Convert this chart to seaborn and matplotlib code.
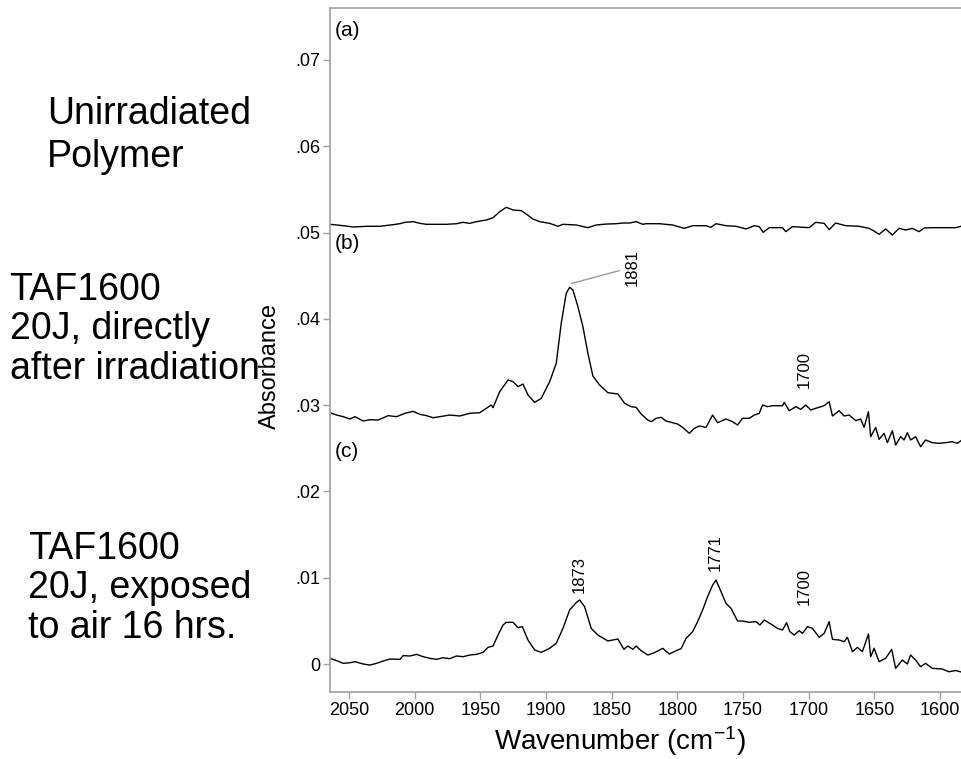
import pandas as pd
import matplotlib.pyplot as plt
import seaborn as sns
from matplotlib.ticker import FuncFormatter, MultipleLocator

sns.set_style('ticks')
plt.rcParams['font.family'] = ['Liberation Sans', 'DejaVu Sans']
plt.rcParams['mathtext.default'] = 'regular'
plt.rcParams['text.color'] = 'black'
plt.rcParams['axes.labelcolor'] = 'black'

# spectrum (a): unirradiated polymer
wn_a = [2064.4, 2059.3, 2054.3, 2046.7, 2036.5, 2026.4, 2016.3, 2011.2, 2007.4, 2001.1,
        1996.0, 1991.0, 1983.3, 1975.7, 1968.1, 1963.1, 1958.0, 1952.9, 1945.4, 1940.3,
        1935.2, 1930.2, 1925.1, 1918.8, 1915.0, 1909.9, 1904.8, 1897.2, 1890.9, 1887.1,
        1877.0, 1868.1, 1861.8, 1854.2, 1846.6, 1841.5, 1836.4, 1831.4, 1826.3, 1823.8,
        1813.7, 1803.6, 1794.7, 1788.4, 1778.2, 1774.4, 1770.6, 1763.0, 1755.4, 1747.8,
        1741.5, 1737.7, 1734.7, 1730.1, 1720.0, 1717.5, 1712.4, 1699.7, 1694.7, 1688.3,
        1684.5, 1679.5, 1671.9, 1661.7, 1654.1, 1650.3, 1646.5, 1641.5, 1636.4, 1631.3,
        1626.3, 1621.2, 1616.1, 1612.3, 1606.0, 1595.9, 1588.3, 1583.4]
abs_a = [0.05095, 0.05087, 0.05079, 0.05064, 0.05072, 0.05072, 0.05091, 0.05102, 0.05118, 0.05126,
         0.05106, 0.05095, 0.05095, 0.05095, 0.05102, 0.05118, 0.05106, 0.05126, 0.05145, 0.05172,
         0.05241, 0.05292, 0.05261, 0.05253, 0.05214, 0.05156, 0.05126, 0.05106, 0.05072, 0.05095,
         0.05087, 0.05056, 0.05087, 0.05098, 0.05102, 0.05110, 0.05110, 0.05126, 0.05095, 0.05102,
         0.05102, 0.05087, 0.05048, 0.05079, 0.05079, 0.05060, 0.05102, 0.05079, 0.05072, 0.05041,
         0.05079, 0.05068, 0.05002, 0.05056, 0.05056, 0.05010, 0.05068, 0.05056, 0.05118, 0.05106,
         0.05033, 0.05110, 0.05079, 0.05072, 0.05048, 0.05017, 0.04979, 0.05041, 0.04971, 0.05048,
         0.05029, 0.05048, 0.05010, 0.05052, 0.05056, 0.05056, 0.05056, 0.05075]

# spectrum (b): TAF1600 20J, directly after irradiation
wn_b = [2064.4, 2059.3, 2054.3, 2049.2, 2045.4, 2039.1, 2034.0, 2027.7, 2020.1, 2013.7,
        2007.4, 2001.1, 1996.0, 1991.0, 1985.9, 1980.8, 1973.2, 1965.6, 1958.0, 1950.4,
        1945.4, 1941.6, 1940.3, 1935.2, 1928.9, 1925.1, 1921.3, 1917.5, 1913.7, 1908.6,
        1903.6, 1897.2, 1892.2, 1888.4, 1884.6, 1882.0, 1879.5, 1875.7, 1871.9, 1868.1,
        1864.3, 1859.2, 1852.9, 1845.3, 1840.2, 1835.2, 1831.4, 1827.6, 1822.5, 1820.0,
        1816.2, 1812.4, 1808.6, 1803.6, 1799.8, 1796.0, 1790.9, 1787.1, 1783.3, 1778.2,
        1773.2, 1769.4, 1763.0, 1758.0, 1754.2, 1750.4, 1745.3, 1741.5, 1737.7, 1735.2,
        1731.4, 1727.6, 1720.0, 1718.7, 1714.9, 1709.9, 1706.1, 1702.3, 1698.5, 1694.7,
        1688.3, 1684.5, 1682.0, 1676.9, 1673.1, 1669.3, 1664.3, 1660.5, 1657.9, 1654.6,
        1652.9, 1649.1, 1646.5, 1642.7, 1640.2, 1636.4, 1633.9, 1630.1, 1627.5, 1625.0,
        1622.5, 1618.7, 1614.9, 1611.1, 1606.0, 1600.9, 1595.9, 1590.8, 1587.0, 1583.4]
abs_b = [0.02912, 0.02885, 0.02866, 0.02839, 0.02866, 0.02816, 0.02831, 0.02827, 0.02878, 0.02866,
         0.02905, 0.02928, 0.02893, 0.02878, 0.02854, 0.02866, 0.02885, 0.02874, 0.02905, 0.02912,
         0.02963, 0.03001, 0.02970, 0.03156, 0.03291, 0.03272, 0.03214, 0.03244, 0.03117, 0.03032,
         0.03078, 0.03272, 0.03484, 0.03948, 0.04295, 0.04365, 0.04334, 0.04141, 0.03909, 0.03600,
         0.03337, 0.03233, 0.03144, 0.03129, 0.03021, 0.02982, 0.02974, 0.02897, 0.02827, 0.02808,
         0.02847, 0.02858, 0.02816, 0.02796, 0.02781, 0.02742, 0.02673, 0.02731, 0.02758, 0.02742,
         0.02885, 0.02796, 0.02839, 0.02808, 0.02769, 0.02847, 0.02847, 0.02885, 0.02905, 0.03001,
         0.02982, 0.02993, 0.02993, 0.03032, 0.02935, 0.02982, 0.02951, 0.03001, 0.02943, 0.02963,
         0.02993, 0.03040, 0.02874, 0.02935, 0.02874, 0.02885, 0.02820, 0.02839, 0.02742, 0.02924,
         0.02634, 0.02742, 0.02603, 0.02673, 0.02565, 0.02704, 0.02538, 0.02634, 0.02596, 0.02681,
         0.02596, 0.02634, 0.02518, 0.02596, 0.02565, 0.02557, 0.02565, 0.02576, 0.02557, 0.02596]

# spectrum (c): TAF1600 20J, exposed to air 16 hrs
wn_c = [2064.4, 2059.3, 2054.3, 2049.2, 2045.4, 2039.1, 2034.0, 2028.9, 2023.9, 2018.8,
        2011.2, 2008.7, 2003.6, 1998.5, 1993.5, 1988.4, 1983.3, 1978.3, 1973.2, 1968.1,
        1963.1, 1958.0, 1952.9, 1947.9, 1944.1, 1940.3, 1936.5, 1932.7, 1930.2, 1925.1,
        1921.3, 1918.0, 1913.7, 1908.6, 1903.6, 1897.2, 1892.2, 1887.1, 1882.0, 1877.0,
        1874.4, 1870.6, 1865.6, 1860.5, 1852.9, 1845.3, 1840.7, 1837.7, 1833.9, 1831.4,
        1827.6, 1822.5, 1817.5, 1811.2, 1806.1, 1801.0, 1797.2, 1793.4, 1788.4, 1784.6,
        1780.8, 1777.0, 1773.2, 1770.6, 1766.8, 1763.0, 1759.2, 1754.2, 1750.4, 1745.3,
        1740.2, 1737.2, 1733.9, 1728.8, 1723.8, 1720.0, 1716.9, 1714.4, 1711.1, 1707.3,
        1704.8, 1701.0, 1697.2, 1692.1, 1688.3, 1684.5, 1682.0, 1676.9, 1673.1, 1670.6,
        1666.8, 1663.0, 1659.2, 1654.6, 1652.9, 1650.3, 1646.5, 1641.5, 1636.9, 1633.9,
        1628.8, 1625.0, 1622.5, 1618.7, 1614.9, 1611.1, 1606.0, 1598.4, 1593.3, 1588.3,
        1583.4]
abs_c = [0.00066, 0.00039, 0.00008, 0.00015, 0.00027, 0.00000, -0.00012, 0.00008, 0.00035, 0.00058,
         0.00054, 0.00097, 0.00093, 0.00112, 0.00085, 0.00066, 0.00054, 0.00073, 0.00062, 0.00093,
         0.00085, 0.00104, 0.00112, 0.00135, 0.00193, 0.00209, 0.00336, 0.00452, 0.00483, 0.00483,
         0.00421, 0.00433, 0.00278, 0.00162, 0.00135, 0.00182, 0.00240, 0.00413, 0.00626, 0.00711,
         0.00742, 0.00664, 0.00413, 0.00336, 0.00267, 0.00290, 0.00170, 0.00209, 0.00170, 0.00209,
         0.00154, 0.00104, 0.00131, 0.00182, 0.00116, 0.00154, 0.00178, 0.00297, 0.00375, 0.00491,
         0.00626, 0.00780, 0.00915, 0.00973, 0.00838, 0.00703, 0.00645, 0.00498, 0.00498, 0.00483,
         0.00491, 0.00452, 0.00510, 0.00463, 0.00413, 0.00394, 0.00479, 0.00375, 0.00336, 0.00386,
         0.00355, 0.00433, 0.00413, 0.00309, 0.00355, 0.00491, 0.00286, 0.00278, 0.00259, 0.00309,
         0.00143, 0.00193, 0.00143, 0.00348, 0.00085, 0.00182, 0.00027, 0.00066, 0.00170, -0.00050,
         0.00046, 0.00000, 0.00104, 0.00046, -0.00031, 0.00008, -0.00050, -0.00058, -0.00090, -0.00075,
         -0.00095]

spectra = {'a': (wn_a, abs_a), 'b': (wn_b, abs_b), 'c': (wn_c, abs_c)}
frames = []
for name, (w, a) in spectra.items():
    frames.append(pd.DataFrame({'wavenumber': w, 'absorbance': a, 'spectrum': name}))
data = pd.concat(frames, ignore_index=True)

fig = plt.figure(figsize=(9.62, 7.59), dpi=100)
ax = fig.add_axes([0.343, 0.0883, 0.657, 0.901])

sns.lineplot(data=data, x='wavenumber', y='absorbance', units='spectrum',
             estimator=None, color='black', linewidth=1.0, ax=ax, legend=False)

ax.set_xlim(2064.4, 1583.4)
ax.set_ylim(-0.00324, 0.0760)
ax.xaxis.set_major_locator(MultipleLocator(50))
ax.yaxis.set_major_locator(MultipleLocator(0.01))
ax.yaxis.set_major_formatter(FuncFormatter(lambda v, p: '0' if abs(v) < 1e-9 else f'{v:.2f}'.lstrip('0')))

spine_gray = '#a0a0a0'
for s in ['left', 'bottom', 'top']:
    ax.spines[s].set_color(spine_gray)
    ax.spines[s].set_linewidth(1.2)
ax.spines['right'].set_visible(False)
ax.tick_params(axis='both', direction='out', length=5, width=1, color=spine_gray,
               labelsize=13, labelcolor='black', pad=2)

ax.set_xlabel('Wavenumber (cm$^{-1}$)', fontsize=20, va='center')
ax.xaxis.set_label_coords(0.459, -0.072)
ax.set_ylabel('Absorbance', fontsize=17, va='center')
ax.yaxis.set_label_coords(-0.095, 0.477)

# panel letters
ax.text(0.008, 0.968, '(a)', transform=ax.transAxes, fontsize=15, va='center', ha='left')
ax.text(0.008, 0.656, '(b)', transform=ax.transAxes, fontsize=15, va='center', ha='left')
ax.text(0.008, 0.351, '(c)', transform=ax.transAxes, fontsize=15, va='center', ha='left')

# peak labels
ax.annotate('1881', xy=(1880.5, 0.0441), xytext=(1834, 0.0460), rotation=90,
            fontsize=12, ha='center', va='center',
            arrowprops=dict(arrowstyle='-', color='#999999', lw=1, shrinkA=2, shrinkB=0))
ax.text(1703.5, 0.0341, '1700', rotation=90, fontsize=12, ha='center', va='center')
ax.text(1874.5, 0.0104, '1873', rotation=90, fontsize=12, ha='center', va='center')
ax.text(1771.5, 0.0129, '1771', rotation=90, fontsize=12, ha='center', va='center')
ax.text(1703.5, 0.0090, '1700', rotation=90, fontsize=12, ha='center', va='center')

# sample descriptions
fig.text(0.049, 0.821, 'Unirradiated\nPolymer', fontsize=27, ha='left', va='center', linespacing=1.25)
fig.text(0.010, 0.566, 'TAF1600\n20J, directly\nafter irradiation', fontsize=27,
         ha='left', va='center', linespacing=1.12)
fig.text(0.029, 0.225, 'TAF1600\n20J, exposed\nto air 16 hrs.', fontsize=27,
         ha='left', va='center', linespacing=1.12)

plt.savefig('out.png', dpi=100)
